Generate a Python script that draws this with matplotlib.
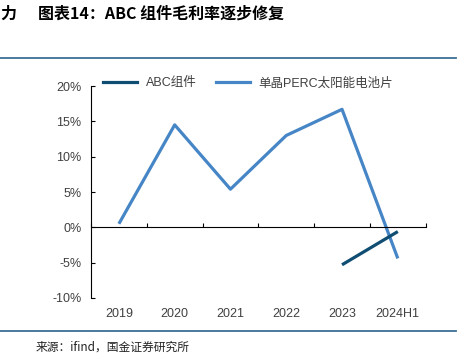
import matplotlib
matplotlib.use("Agg")
import matplotlib.pyplot as plt
from matplotlib.lines import Line2D

plt.rcParams['font.family'] = ['Liberation Sans', 'Noto Sans CJK SC', 'DejaVu Sans']

years = ['2019', '2020', '2021', '2022', '2023', '2024H1']
perc_margin = [0.5, 14.5, 5.4, 13.0, 16.7, -4.4]
abc_years = ['2023', '2024H1']
abc_margin = [-5.3, -0.6]

c_abc = '#0f4d73'
c_perc = '#4686c6'
c_rule = '#3d6f96'
txt = '#404040'

fig = plt.figure(figsize=(4.73, 3.62), dpi=100)
ax = fig.add_axes([0.1924, 0.1768, 0.7076, 0.5856])

x = list(range(len(years)))
xa = [years.index(y) for y in abc_years]
ax.plot(x, perc_margin, color=c_perc, lw=2.3, solid_capstyle='butt', label='单晶PERC太阳能电池片')
ax.plot(xa, abc_margin, color=c_abc, lw=2.3, solid_capstyle='butt', label='ABC组件')

ax.set_xlim(-0.5, len(years) - 0.5)
ax.set_ylim(-10, 20)
ax.set_yticks(range(-10, 21, 5))
ax.set_yticklabels([f'{v}%' for v in range(-10, 21, 5)])

for s in ['top', 'right']:
    ax.spines[s].set_visible(False)
ax.spines['left'].set_color('black')
ax.spines['bottom'].set_position(('data', 0))
ax.spines['bottom'].set_color('black')
ax.set_xticks([i - 0.5 for i in range(len(years) + 1)])
ax.set_xticklabels([])
ax.tick_params(axis='x', direction='in', length=3, color='black')
ax.tick_params(axis='y', direction='in', length=3, pad=7, labelsize=9, labelcolor=txt)

sec = ax.secondary_xaxis(0)
sec.spines['bottom'].set_visible(False)
sec.set_xticks(x)
sec.set_xticklabels(years)
sec.tick_params(length=0, pad=7, labelsize=9, labelcolor=txt)

handles = [Line2D([], [], color=c_abc, lw=2.3), Line2D([], [], color=c_perc, lw=2.3)]
fig.legend(handles, ['ABC组件', '单晶PERC太阳能电池片'], loc='upper left',
           bbox_to_anchor=(0.194, 0.818), ncol=2, frameon=False, fontsize=9,
           handlelength=2.7, handletextpad=0.7, columnspacing=1.6, labelcolor=txt)

fig.text(0.0, 0.962, '力', fontsize=11.5, fontweight='bold',
         family=['Noto Sans CJK SC'], va='center', color='black')
fig.text(0.08, 0.962, '图表14：ABC 组件毛利率逐步修复', fontsize=11.5, fontweight='bold',
         family=['Noto Sans CJK SC', 'DejaVu Sans'], va='center', color='black')
fig.add_artist(Line2D([0, 0.964], [0.84, 0.84], color=c_rule, lw=1.3))
fig.add_artist(Line2D([0, 0.964], [0.086, 0.086], color=c_rule, lw=1.3))
fig.text(0.076, 0.041, '来源：ifind，国金证券研究所', fontsize=8.5,
         family=['Noto Sans CJK SC', 'DejaVu Sans'], va='center', color='#222222')

fig.savefig('out.png', dpi=100)
